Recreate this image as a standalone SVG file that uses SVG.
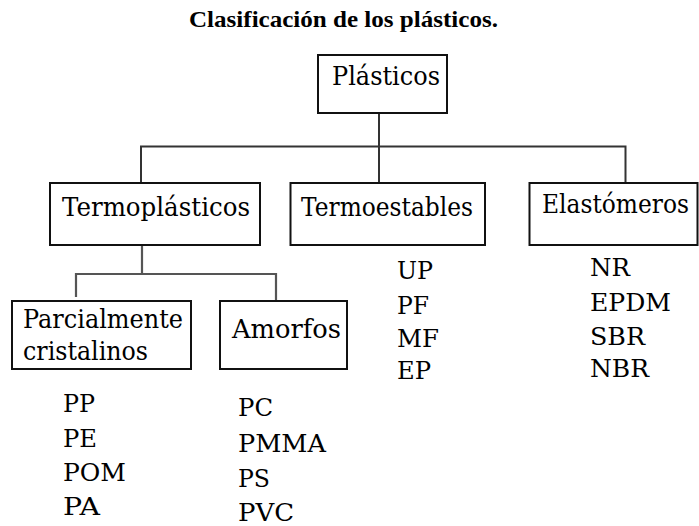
<svg xmlns="http://www.w3.org/2000/svg" width="699" height="526" viewBox="0 0 699 526">
<style>
.box{fill:#fff;stroke:#111;stroke-width:2}
text{font-family:'DejaVu Serif',serif;fill:#000}
.lbl{font-size:26px}
.lst{font-size:25px}
.title{font-family:'Liberation Serif',serif;font-size:24px;font-weight:bold}
.con{fill:none;stroke:#333;stroke-width:2}
.con2{fill:none;stroke:#555;stroke-width:2.2}
</style>
<rect width="699" height="526" fill="#fff"/>
<text class="title" x="189" y="27" textLength="309" lengthAdjust="spacingAndGlyphs">Clasificación de los plásticos.</text>
<g id="connectors">
<path class="con" d="M379 113 V146.5 M141 183 V146.5 H625.5 V183 M379 146.5 V183"/>
<path class="con2" d="M142 245 V274 M76 297 V274 H276 V305"/>
</g>
<g id="plasticos">
<rect class="box" x="318" y="55" width="129" height="58"/>
<text class="lbl" x="332" y="85" textLength="108" lengthAdjust="spacingAndGlyphs">Plásticos</text>
</g>
<g id="termoplasticos">
<rect class="box" x="50" y="183" width="210" height="62"/>
<text class="lbl" x="62" y="216" textLength="188" lengthAdjust="spacingAndGlyphs">Termoplásticos</text>
</g>
<g id="termoestables">
<rect class="box" x="290.5" y="183" width="194.5" height="62"/>
<text class="lbl" x="301" y="216" textLength="172" lengthAdjust="spacingAndGlyphs">Termoestables</text>
<text class="lst" x="397" y="279" textLength="36" lengthAdjust="spacingAndGlyphs">UP</text>
<text class="lst" x="397" y="314" textLength="32" lengthAdjust="spacingAndGlyphs">PF</text>
<text class="lst" x="397" y="347" textLength="42" lengthAdjust="spacingAndGlyphs">MF</text>
<text class="lst" x="397" y="379" textLength="34" lengthAdjust="spacingAndGlyphs">EP</text>
</g>
<g id="elastomeros">
<rect class="box" x="529.5" y="183" width="168" height="62"/>
<text class="lbl" x="542" y="213" textLength="147" lengthAdjust="spacingAndGlyphs">Elastómeros</text>
<text class="lst" x="590" y="276" textLength="40" lengthAdjust="spacingAndGlyphs">NR</text>
<text class="lst" x="590" y="311" textLength="81" lengthAdjust="spacingAndGlyphs">EPDM</text>
<text class="lst" x="590" y="345" textLength="55" lengthAdjust="spacingAndGlyphs">SBR</text>
<text class="lst" x="590" y="377" textLength="59" lengthAdjust="spacingAndGlyphs">NBR</text>
</g>
<g id="parcialmente">
<rect class="box" x="12" y="301" width="179" height="68"/>
<text class="lbl" x="23" y="328" textLength="160" lengthAdjust="spacingAndGlyphs">Parcialmente</text>
<text class="lbl" x="23" y="360" textLength="125" lengthAdjust="spacingAndGlyphs">cristalinos</text>
<text class="lst" x="63" y="412" textLength="32" lengthAdjust="spacingAndGlyphs">PP</text>
<text class="lst" x="63" y="447" textLength="34" lengthAdjust="spacingAndGlyphs">PE</text>
<text class="lst" x="63" y="481" textLength="63" lengthAdjust="spacingAndGlyphs">POM</text>
<text class="lst" x="63" y="515" textLength="37" lengthAdjust="spacingAndGlyphs">PA</text>
</g>
<g id="amorfos">
<rect class="box" x="220" y="301" width="127" height="68"/>
<text class="lbl" x="232" y="338" textLength="109" lengthAdjust="spacingAndGlyphs">Amorfos</text>
<text class="lst" x="238" y="416" textLength="35" lengthAdjust="spacingAndGlyphs">PC</text>
<text class="lst" x="238" y="452" textLength="88" lengthAdjust="spacingAndGlyphs">PMMA</text>
<text class="lst" x="238" y="487" textLength="32" lengthAdjust="spacingAndGlyphs">PS</text>
<text class="lst" x="238" y="521" textLength="56" lengthAdjust="spacingAndGlyphs">PVC</text>
</g>
</svg>
